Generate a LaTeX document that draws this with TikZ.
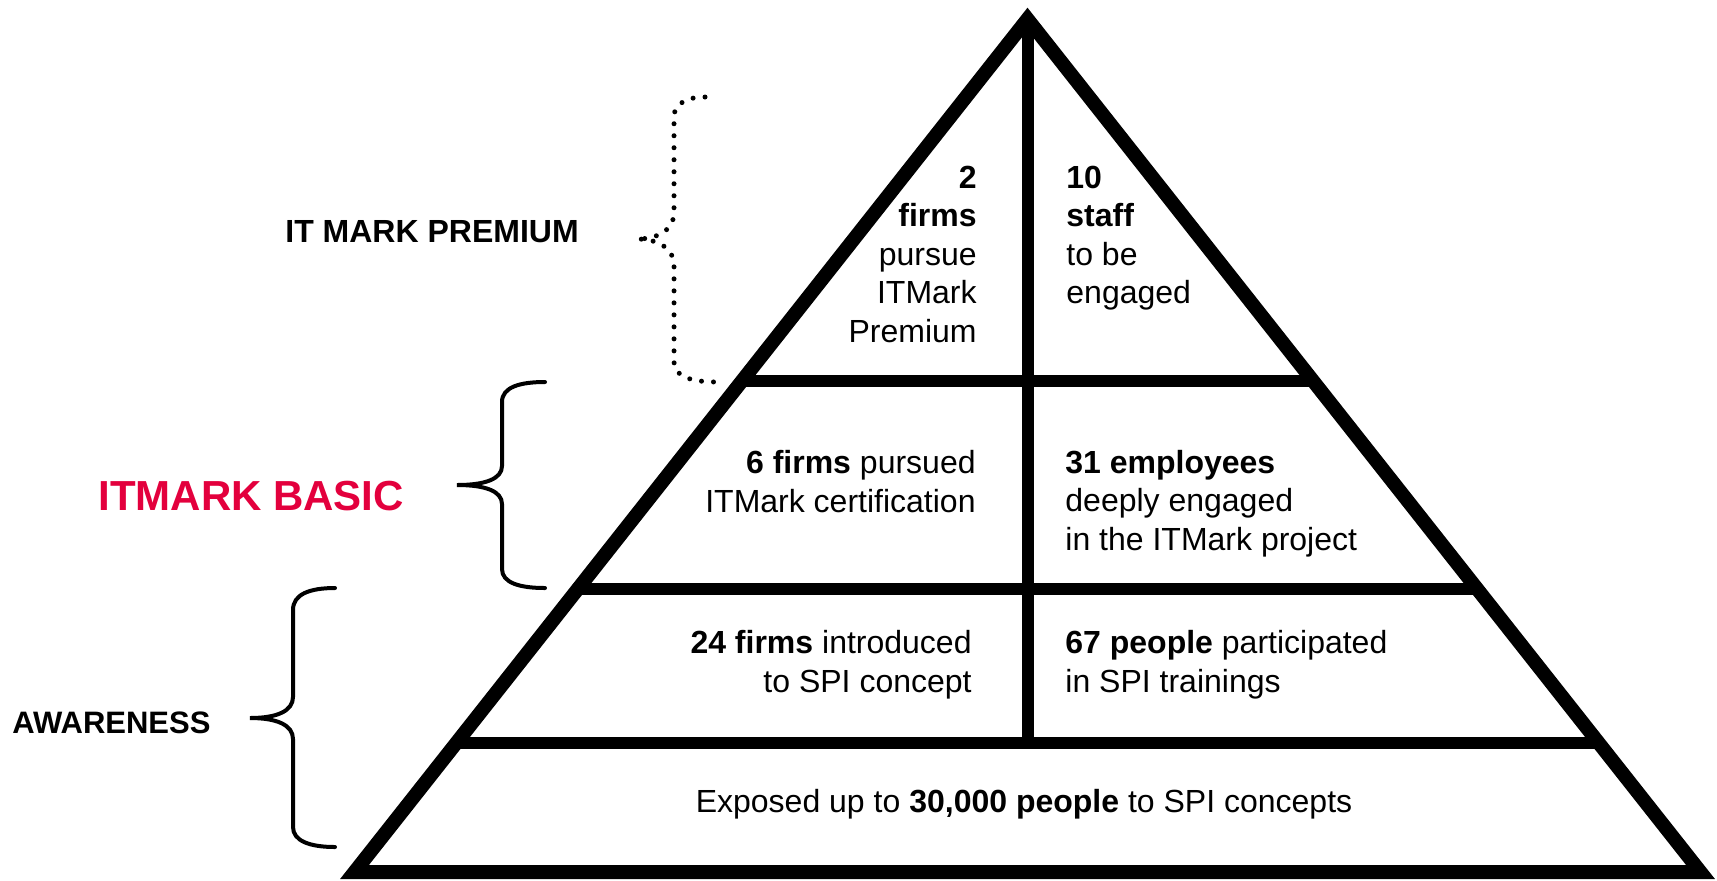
\documentclass[tikz,border=0pt]{standalone}
\usepackage{fontspec}
\setmainfont{Liberation Sans}
\usetikzlibrary{calc}
\definecolor{basicred}{RGB}{227,0,61}

\begin{document}
\begin{tikzpicture}[x=0.5pt, y=-0.5pt]
  \tikzstyle{every node}=[inner sep=0pt, font=\fontsize{16}{19.2}\selectfont]
  \tikzstyle{pyrline}=[line width=7pt, line join=miter]
  \tikzstyle{pyrdivider}=[line width=6pt]
  \tikzstyle{bracket}=[line width=2pt, line cap=round]
  \tikzstyle{dotbracket}=[line width=2.5pt, line cap=round, dash pattern=on 0pt off 6pt]
  \useasboundingbox (0,0) rectangle (1717,880);
  % pyramid corners
  \coordinate (apex) at (1027.5,19);
  \coordinate (bl) at (354.5,872);
  \coordinate (br) at (1700.5,872);
  % tier dividers, then the outline on top
  \foreach \t/\tier in {0.4244/one, 0.6682/two, 0.8488/three}
    \draw[pyrdivider] ($(apex)!\t!(bl)$) coordinate (\tier-left) -- ($(apex)!\t!(br)$) coordinate (\tier-right);
  \draw[pyrdivider] (apex) -- (apex |- three-left);
  \draw[pyrline] (apex) -- (bl) -- (br) -- cycle;
  % tier texts (base = last line)
  \node[anchor=base east, align=right] (premiumL) at (977,342) {\textbf{2}\\\textbf{firms}\\pursue\\ITMark\\Premium};
  \node[anchor=base west, align=left] (premiumR) at (1066,303.5) {\textbf{10}\\\textbf{staff}\\to be\\engaged};
  \node[anchor=base east, align=right] (basicL) at (976,512) {\textbf{6 firms} pursued\\ITMark certification};
  \node[anchor=base west, align=left] (basicR) at (1065,550) {\textbf{31 employees}\\deeply engaged\\in the ITMark project};
  \node[anchor=base east, align=right] (awareL) at (972,692) {\textbf{24 firms} introduced\\to SPI concept};
  \node[anchor=base west, align=left] (awareR) at (1065,692) {\textbf{67 people} participated\\in SPI trainings};
  \node[anchor=base] (exposure) at (1024,812) {Exposed up to \textbf{30,000 people} to SPI concepts};
  % level labels
  \node[anchor=base west, font=\fontsize{16}{19.2}\selectfont\bfseries] (lblPremium) at (285,242) {IT MARK PREMIUM};
  \node[anchor=base west, text=basicred, font=\fontsize{21}{25}\selectfont\bfseries] (lblBasic) at (98,510) {ITMARK BASIC};
  \node[anchor=base west, font=\fontsize{15.5}{18.6}\selectfont\bfseries] (lblAware) at (12,733) {AWARENESS};
  % braces
  \draw[dotbracket] (705,97) .. controls (688,97) and (674,103) .. (674,117) -- (674,213)
    .. controls (674,228) and (660,239) .. (637,239) .. controls (660,239) and (674,250) .. (674,265)
    -- (674,362) .. controls (674,376) and (690,382) .. (717,382);
  \draw[bracket] (545,382) .. controls (520,382) and (502,387) .. (502,402) -- (502,466)
    .. controls (502,479) and (485,485) .. (457,485) .. controls (485,485) and (502,491) .. (502,504)
    -- (502,569) .. controls (502,583) and (520,588) .. (545,588);
  \draw[bracket] (335,588) .. controls (310,588) and (293,594) .. (293,610) -- (293,697)
    .. controls (293,711) and (277,718) .. (250,718) .. controls (277,718) and (293,725) .. (293,739)
    -- (293,827) .. controls (293,841) and (310,847) .. (335,847);
\end{tikzpicture}
\end{document}
